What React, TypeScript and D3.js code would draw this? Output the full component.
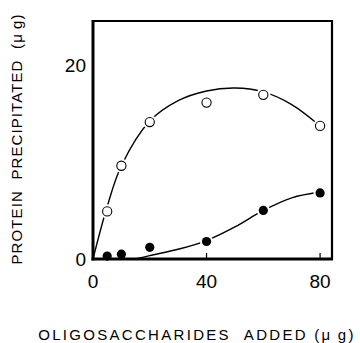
import React from "react";
import * as d3 from "d3";

const openX = [5, 10, 20, 40, 60, 80];
const openY = [4.9, 9.6, 14.1, 16.1, 16.9, 13.7];
const filledX = [5, 10, 20, 40, 60, 80];
const filledY = [0.3, 0.5, 1.2, 1.8, 5.0, 6.8];
// fitted curves
const openCurveX = [0, 5, 10, 20, 30, 40, 50, 60, 70, 80];
const openCurveY = [0, 5.4, 9.6, 14.2, 16.3, 17.3, 17.6, 17.2, 15.9, 13.7];
const filledCurveX = [15, 20, 30, 40, 50, 60, 70, 80];
const filledCurveY = [0, 0.35, 1.0, 1.9, 3.3, 5.0, 6.3, 6.9];
const xTicks = [0, 40, 80];
const yTicks = [0, 20];

export default function App() {
  const W = 360, H = 343;
  const left = 93, right = 332, top = 21, bottom = 259;
  const x = d3.scaleLinear().domain([0, 84.2]).range([left, right]);
  const y = d3.scaleLinear().domain([0, 24.5]).range([bottom, top]);
  const line = d3
    .line<[number, number]>()
    .x((d) => x(d[0]))
    .y((d) => y(d[1]))
    .curve(d3.curveCatmullRom.alpha(0.5));
  const openPts = openCurveX.map((v, i) => [v, openCurveY[i]] as [number, number]);
  const filledPts = filledCurveX.map((v, i) => [v, filledCurveY[i]] as [number, number]);
  const font = "Liberation Sans, Arial, sans-serif";
  return (
    <svg width={W} height={H} style={{ position: "absolute", left: 0, top: 0, background: "#fff" }}>
      <path d={line(openPts) || ""} fill="none" stroke="#000" strokeWidth={1.4} />
      <path d={line(filledPts) || ""} fill="none" stroke="#000" strokeWidth={1.4} />
      {openX.map((v, i) => (
        <circle key={"o" + i} cx={x(v)} cy={y(openY[i])} r={4.6} fill="#fff" stroke="#fff" strokeWidth={5} />
      ))}
      {openX.map((v, i) => (
        <circle key={"oo" + i} cx={x(v)} cy={y(openY[i])} r={4.6} fill="#fff" stroke="#000" strokeWidth={1.1} />
      ))}
      {filledX.map((v, i) => (
        <circle key={"fh" + i} cx={x(v)} cy={y(filledY[i])} r={4.6} fill="#fff" stroke="#fff" strokeWidth={4} />
      ))}
      {filledX.map((v, i) => (
        <circle key={"f" + i} cx={x(v)} cy={y(filledY[i])} r={4.6} fill="#000" />
      ))}
      {/* frame */}
      <line x1={left} y1={top} x2={right} y2={top} stroke="#000" strokeWidth={2.2} />
      <line x1={right} y1={top - 1} x2={right} y2={bottom} stroke="#000" strokeWidth={2.2} />
      <line x1={left} y1={top - 1} x2={left} y2={bottom + 1.5} stroke="#000" strokeWidth={3} />
      <line x1={left - 1.5} y1={bottom} x2={right + 1} y2={bottom} stroke="#000" strokeWidth={3} />
      {xTicks.slice(1).map((t) => (
        <line key={"xt" + t} x1={x(t)} x2={x(t)} y1={bottom} y2={bottom - 6} stroke="#000" strokeWidth={1.2} />
      ))}
      {xTicks.map((t) => (
        <text key={"xl" + t} x={x(t)} y={bottom + 29} textAnchor="middle" fontFamily={font} fontSize={19}>
          {t}
        </text>
      ))}
      {yTicks.map((t) => (
        <text key={"yl" + t} x={left - 7} y={y(t) + 7} textAnchor="end" fontFamily={font} fontSize={19}>
          {t}
        </text>
      ))}
      <text
        x={197}
        y={340}
        textAnchor="middle"
        fontFamily={font}
        fontSize={15}
        letterSpacing={2.3}
      >
        {"OLIGOSACCHARIDES\u00a0\u00a0ADDED\u00a0(μ\u2009g)"}
      </text>
      <text
        transform={`translate(21.5,139) rotate(-90)`}
        textAnchor="middle"
        fontFamily={font}
        fontSize={15}
        letterSpacing={1.1}
      >
        {"PROTEIN\u00a0\u00a0PRECIPITATED\u00a0\u00a0(μ\u2009g)"}
      </text>
    </svg>
  );
}
